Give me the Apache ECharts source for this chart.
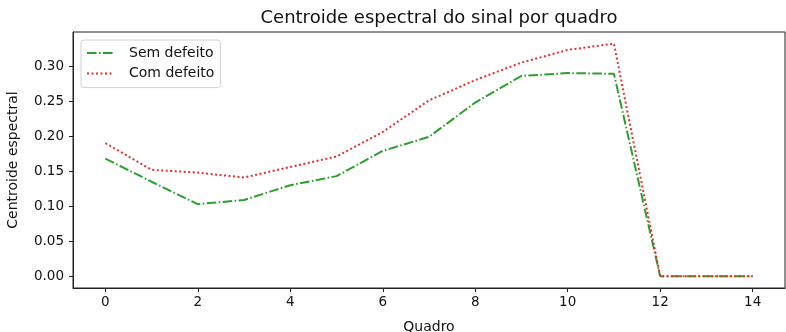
<!DOCTYPE html>
<html>
<head>
<meta charset="utf-8">
<script src="https://cdn.jsdelivr.net/npm/echarts@6/dist/echarts.min.js"></script>
<style>
  html, body { margin: 0; padding: 0; background: #fff; }
  #chart { width: 786px; height: 332px; }
</style>
</head>
<body>
<div id="chart"></div>
<script>
const frames = [0, 1, 2, 3, 4, 5, 6, 7, 8, 9, 10, 11, 12, 13, 14];
const semDefeito = [0.168, 0.135, 0.103, 0.109, 0.130, 0.143, 0.179, 0.199, 0.248, 0.286, 0.290, 0.289, 0, 0, 0];
const comDefeito = [0.190, 0.152, 0.148, 0.141, 0.156, 0.171, 0.206, 0.251, 0.280, 0.305, 0.323, 0.332, 0, 0, 0];
const xTicks = [0, 2, 4, 6, 8, 10, 12, 14];
const yTicks = [0, 0.05, 0.10, 0.15, 0.20, 0.25, 0.30];

const font = 'DejaVu Sans';
const chart = echarts.init(document.getElementById('chart'), null, { renderer: 'canvas' });

const option = {
  animation: false,
  title: {
    text: 'Centroide espectral do sinal por quadro',
    left: 434,
    textAlign: 'center',
    top: 4,
    textStyle: { fontFamily: font, fontSize: 18, fontWeight: 'normal', color: '#111' },
  },
  legend: {
    left: 81,
    top: 40,
    orient: 'vertical',
    itemWidth: 27,
    itemHeight: 14,
    itemGap: 6.6,
    padding: [6, 6, 7, 5],
    borderColor: '#d0d0d0',
    borderWidth: 1,
    borderRadius: 3,
    itemStyle: { opacity: 0 },
    textStyle: { fontFamily: font, fontSize: 14, color: '#111', padding: [0, 0, 0, 10] },
    data: ['Sem defeito', 'Com defeito'],
  },
  grid: {
    left: 73,
    right: 1,
    top: 32,
    bottom: 44,
    outerBoundsMode: 'none',
    containLabel: false,
    show: true,
    borderColor: '#222',
    borderWidth: 1,
  },
  xAxis: {
    type: 'value',
    min: -0.7,
    max: 14.7,
    name: 'Quadro',
    nameLocation: 'middle',
    nameGap: 32,
    nameTextStyle: { fontFamily: font, fontSize: 14, color: '#111' },
    splitLine: { show: false },
    axisLine: { show: true, onZero: false, lineStyle: { color: '#222' } },
    axisTick: { show: true, length: 4, customValues: xTicks, lineStyle: { color: '#222' } },
    axisLabel: {
      customValues: xTicks,
      fontFamily: font, fontSize: 13.5, color: '#111', margin: 7,
    },
  },
  yAxis: {
    type: 'value',
    min: -0.0166,
    max: 0.3486,
    name: 'Centroide espectral',
    nameLocation: 'middle',
    nameGap: 53,
    nameTextStyle: { fontFamily: font, fontSize: 14, color: '#111' },
    splitLine: { show: false },
    axisLine: { show: true, onZero: false, lineStyle: { color: '#222' } },
    axisTick: { show: true, length: 4, customValues: yTicks, lineStyle: { color: '#222' } },
    axisLabel: {
      customValues: yTicks,
      formatter: (v) => v.toFixed(2),
      fontFamily: font, fontSize: 13.5, color: '#111', margin: 9,
    },
  },
  series: [
    {
      name: 'Sem defeito',
      type: 'line',
      symbol: 'none',
      color: '#2ca02c',
      data: frames.map((f, i) => [f, semDefeito[i]]),
      lineStyle: { width: 2, color: '#2ca02c', type: [9.6, 2.4, 1.6, 2.4] },
    },
    {
      name: 'Com defeito',
      type: 'line',
      symbol: 'none',
      color: '#e0302f',
      data: frames.map((f, i) => [f, comDefeito[i]]),
      lineStyle: { width: 2, color: '#e0302f', type: [2, 2.5] },
    },
  ],
};
chart.setOption(option);
</script>
</body>
</html>
